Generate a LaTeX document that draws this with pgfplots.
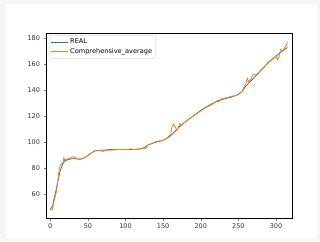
\documentclass[border=0pt]{standalone}
\usepackage{pgfplots}
\pgfplotsset{compat=1.18}
\usepackage{fontspec}
\setmainfont{DejaVu Sans}
\definecolor{mplblue}{HTML}{1F77B4}
\definecolor{mplorange}{HTML}{FF7F0E}
\definecolor{bgframe}{HTML}{F6F6F6}
\begin{document}
\begin{tikzpicture}
\useasboundingbox (-46pt,-23pt) rectangle (274pt,218pt);
\fill[bgframe] (-46pt,-23pt) rectangle (274pt,218pt);
\fill[white] (-40pt,-20pt) rectangle (271pt,214pt);
\begin{axis}[
  at={(0,0)}, anchor=south west,
  scale only axis, width=246pt, height=185pt,
  xmin=-5.7, xmax=321.3, ymin=42.1, ymax=183.6,
  xtick={0,50,100,150,200,250,300},
  ytick={60,80,100,120,140,160,180},
  tick label style={font=\fontsize{6.5}{7}\selectfont, text=black!80},
  /pgf/number format/assume math mode=true,
  tick align=outside, tickwidth=2.5pt,
  xtick pos=bottom, ytick pos=left,
  axis line style={black, line width=0.7pt},
  legend pos=north west,
  legend style={font=\fontsize{6.6}{7.5}\selectfont, draw=black!15, rounded corners=1pt,
    inner sep=1.2pt, row sep=-0.5pt, at={(0.012,0.987)}, anchor=north west},
  legend cell align=left,
  every axis plot/.append style={line width=0.8pt},
]
\addplot[mplblue, no markers] coordinates {
(0,49) (3,51) (5,57) (8,64) (10,70) (13,78) (17,84) (20,86) (25,87) (30,87.5) (35,87.3) (40,87) (45,88)
(50,90) (55,92) (60,93.5) (70,94) (80,94.5) (90,94.5) (100,94.5) (110,94.5) (120,95) (125,96)
(130,98) (140,100) (150,101.5) (155,103) (160,105) (165,108) (170,111) (180,116) (190,120)
(200,124.5) (210,128) (220,131) (230,133) (240,134.5) (250,136.5) (255,139) (260,143) (270,149)
(280,155) (290,161) (300,166) (310,170.5) (315,172.5)
};
\addlegendentry{REAL}
\addplot[mplorange, no markers] coordinates {
(0,49) (2,48) (3,49) (5,55) (8,62) (10,71) (12,80) (13,82) (15,84) (17,84) (18,88) (19,86) (20,87)
(25,87.5) (30,89) (32,88.5) (35,88) (40,87) (45,88) (50,90) (55,92) (60,94) (62,93.5) (65,94)
(70,93) (75,94) (80,94) (85,94.2) (90,94.5) (100,94.5) (108,95) (110,94.5) (115,94.5) (120,95)
(127,95) (128,97) (130,98) (135,99) (140,100.5) (145,101) (150,101.5) (155,103) (158,105) (160,106)
(162,112) (164,114) (166,112) (168,109) (170,111) (172,114.5) (174,113) (180,116) (190,120)
(200,124) (205,126) (210,127.5) (215,129) (220,131) (222,132) (224,131) (226,133) (230,133.5)
(240,135) (248,136) (250,137) (255,139) (258,143) (260,145) (262,149) (264,146) (266,148)
(270,152) (275,152) (280,155.5) (285,158) (290,161.5) (295,163) (300,166) (302,163) (304,165)
(306,171) (308,170) (310,171) (312,173) (314,174) (315,177)
};
\addlegendentry{Comprehensive\_average}
\end{axis}
\end{tikzpicture}
\end{document}
